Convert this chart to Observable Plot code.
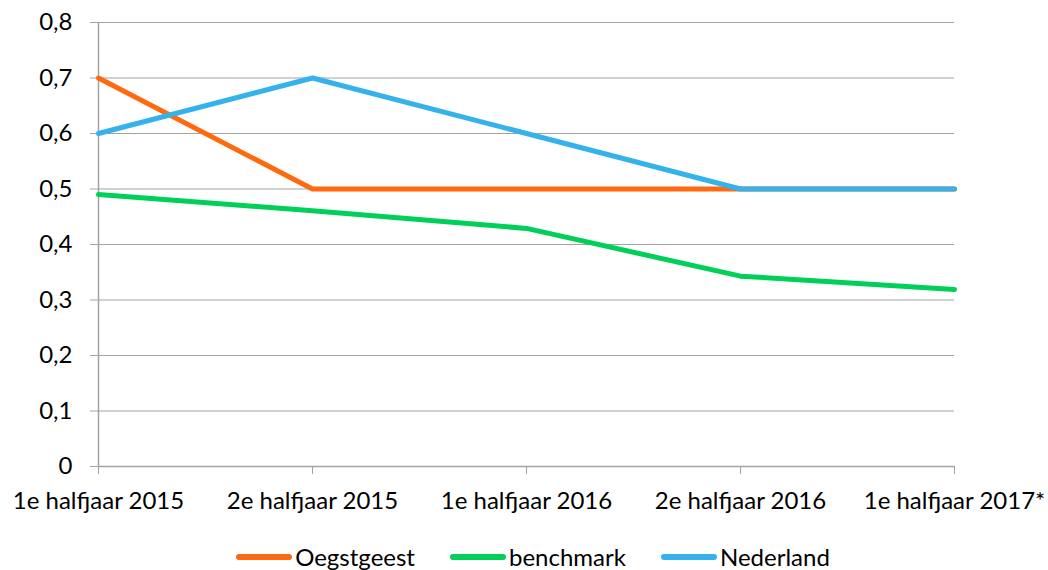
<!DOCTYPE html>
<html><head><meta charset="utf-8">
<script src="https://cdn.jsdelivr.net/npm/d3@7"></script>
<script src="https://cdn.jsdelivr.net/npm/@observablehq/plot@0.6"></script>
<style>
body{margin:0;background:#fff;font-family:Lato,"Open Sans",sans-serif;}
#chart svg{display:block}
#legend{display:flex;justify-content:center;gap:35px;font-size:24px;line-height:29px;color:#000;margin-top:17px;margin-left:18px}
#legend span.item{display:flex;align-items:center}
#legend span.sw{display:inline-block;width:56px;height:6px;border-radius:3px;margin-right:3px}
</style></head><body>
<div id="chart"></div>
<div id="legend"></div>
<script>
const categories = ["1e halfjaar 2015","2e halfjaar 2015","1e halfjaar 2016","2e halfjaar 2016","1e halfjaar 2017*"];
const seriesNames = ["Oegstgeest","benchmark","Nederland"];
const oegstgeest = [0.7,0.5,0.5,0.5,0.5];
const benchmark = [0.49,0.461,0.429,0.343,0.319];
const nederland = [0.6,0.7,0.6,0.5,0.5];
const yTicks = [0,0.1,0.2,0.3,0.4,0.5,0.6,0.7,0.8];
const colors = ["#ff6a10","#00d058","#35b1ec"];

const allSeries = [oegstgeest, benchmark, nederland];
const data = [];
seriesNames.forEach((s,i)=>categories.forEach((c,j)=>data.push({series:s,cat:c,value:allSeries[i][j]})));
const fmt = d => String(d).replace(".", ",");

const chart = Plot.plot({
  width:1048, height:525,
  marginTop:22, marginBottom:59, marginLeft:98, marginRight:94,
  style:{fontFamily:"Lato, 'Open Sans', sans-serif", fontSize:"24px", color:"#000", background:"#fff"},
  x:{type:"point", domain:categories, padding:0},
  y:{domain:[0,0.8]},
  color:{domain:seriesNames, range:colors},
  marks:[
    Plot.ruleY(yTicks.filter(d=>d>0), {stroke:"#a3a3a3", strokeWidth:1, strokeOpacity:1}),
    Plot.ruleX([categories[0]], {y1:0, y2:0.8, stroke:"#a3a3a3", strokeWidth:1.5}),
    Plot.ruleY([0], {stroke:"#a3a3a3", strokeWidth:1.5}),
    Plot.axisY({ticks:yTicks, tickFormat:fmt, tickSize:8, tickPadding:18, stroke:"#a3a3a3", label:null, fontSize:24}),
    Plot.axisX({tickSize:8, tickPadding:17, stroke:"#a3a3a3", label:null, fontSize:24}),
    Plot.line(data, {x:"cat", y:"value", z:"series", stroke:"series", strokeWidth:5, strokeLinecap:"round", strokeLinejoin:"round"})
  ]
});
chart.querySelectorAll("g[aria-label='y-axis tick label'] text, g[aria-label='x-axis tick label'] text").forEach(t=>t.setAttribute("fill","#000"));
document.getElementById("chart").appendChild(chart);

const lg = document.getElementById("legend");
seriesNames.forEach((s,i)=>{
  const it=document.createElement("span"); it.className="item";
  const sw=document.createElement("span"); sw.className="sw"; sw.style.background=colors[i];
  it.appendChild(sw); it.appendChild(document.createTextNode(s)); lg.appendChild(it);
});
</script></body></html>
